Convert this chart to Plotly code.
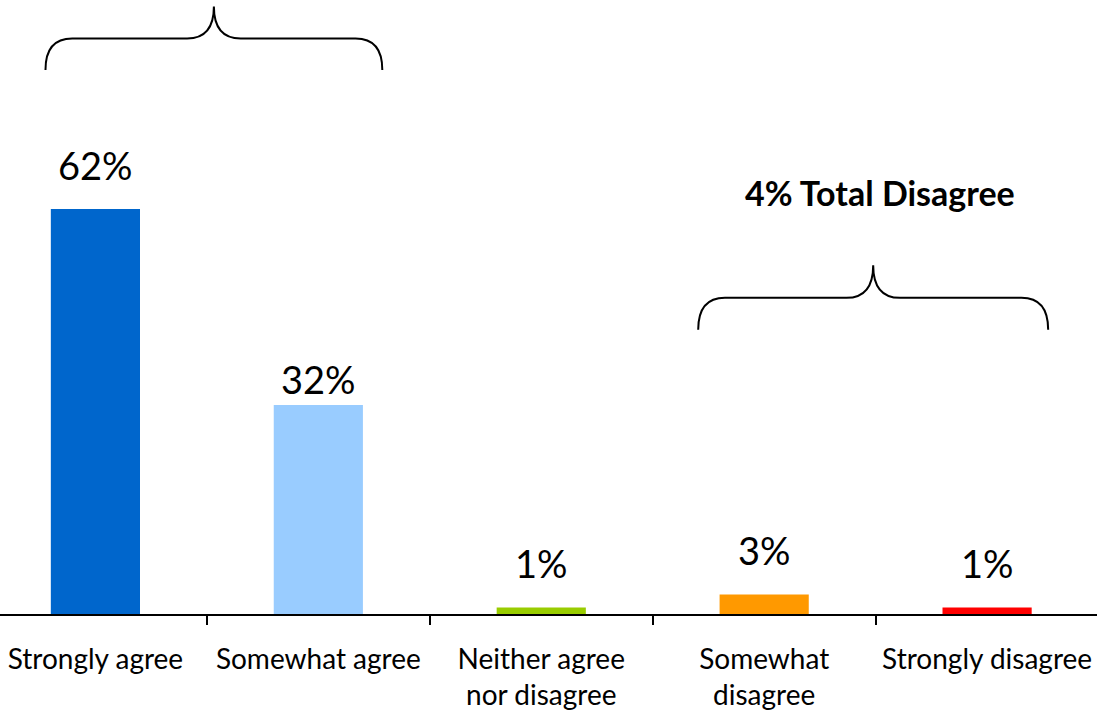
import plotly.graph_objects as go

# Survey responses (percent of respondents)
categories = ["Strongly agree", "Somewhat agree", "Neither agree<br>nor disagree",
              "Somewhat<br>disagree", "Strongly disagree"]
values = [62, 32, 1, 3, 1]
bar_colors = ["#0066CC", "#99CCFF", "#99CC00", "#FF9900", "#FF0000"]
# pixel lift of each value label above its bar
label_lift = [19, 1, 19, 19, 19]

disagree_total = values[3] + values[4]

FONT = "Lato"

fig = go.Figure()
fig.add_trace(go.Bar(
    x=categories,
    y=values,
    width=0.4,
    marker=dict(color=bar_colors, line=dict(width=0)),
    hoverinfo="skip",
))

# value labels above each bar
for cat, v, lift in zip(categories, values, label_lift):
    fig.add_annotation(x=cat, y=v, text=f"{v}%", showarrow=False,
                       xref="x", yref="y", yanchor="bottom", yshift=lift,
                       font=dict(family=FONT, size=38, color="black"))


def brace_path(x0, x1, y_base, y_bar, y_tip, dx):
    """Curly brace opening downward, spanning x0..x1 in data units."""
    xc = (x0 + x1) / 2
    return (f"M {x0},{y_base} Q {x0},{y_bar} {x0 + dx},{y_bar} "
            f"L {xc - dx},{y_bar} Q {xc},{y_bar} {xc},{y_tip} "
            f"Q {xc},{y_bar} {xc + dx},{y_bar} "
            f"L {x1 - dx},{y_bar} Q {x1},{y_bar} {x1},{y_base}")


# brace over the agree responses
fig.add_shape(type="path", xref="x", yref="y",
              path=brace_path(-0.224, 1.287, 83.3, 88.1, 93.0, 0.12),
              line=dict(color="black", width=2))
# brace over the disagree responses
fig.add_shape(type="path", xref="x", yref="y",
              path=brace_path(2.704, 4.274, 43.5, 48.4, 53.4, 0.12),
              line=dict(color="black", width=2))

fig.add_annotation(x=3.52, y=64.5, text=f"<b>{disagree_total}% Total Disagree</b>",
                   showarrow=False, xref="x", yref="y",
                   font=dict(family=FONT, size=34, color="black"))

fig.update_layout(
    width=1097, height=711,
    margin=dict(l=0, r=0, t=0, b=97),
    paper_bgcolor="white", plot_bgcolor="white",
    showlegend=False,
    xaxis=dict(
        type="category",
        range=[-0.428, 4.493],
        showline=True, linecolor="black", linewidth=2,
        ticks="outside", tickson="boundaries", ticklen=9, tickwidth=2,
        tickcolor="black",
        ticklabelstandoff=19,
        showgrid=False, zeroline=False,
        tickfont=dict(family=FONT, size=28, color="black"),
        fixedrange=True,
    ),
    yaxis=dict(visible=False, range=[0, 94], fixedrange=True),
)

fig.write_html("out.html")
